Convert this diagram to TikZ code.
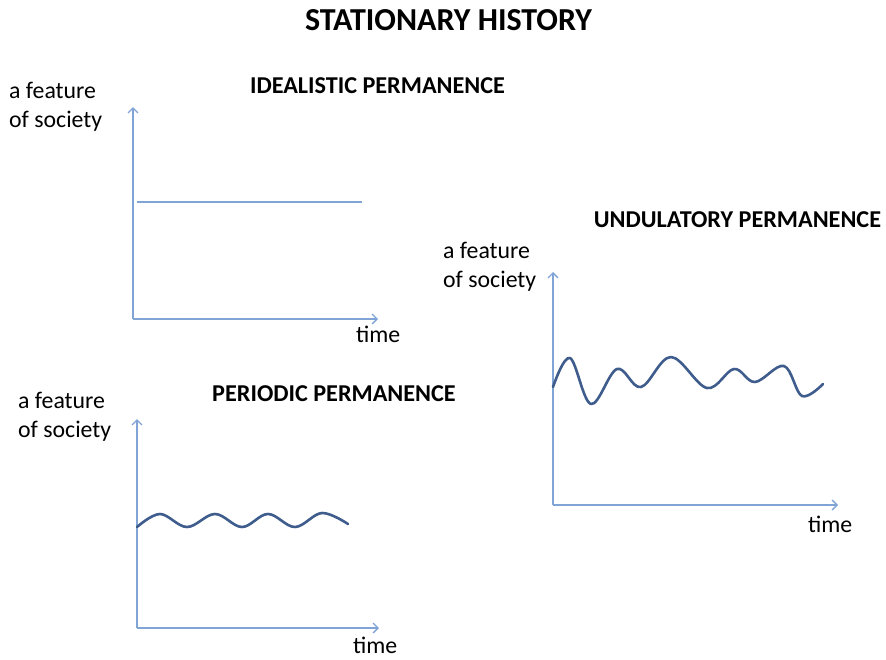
\documentclass[tikz,border=0pt]{standalone}
\usepackage{fontspec}
\setmainfont{Carlito}
\usetikzlibrary{arrows.meta}
\definecolor{axisblue}{RGB}{128,164,214}
\definecolor{waveblue}{RGB}{62,92,140}
\tikzset{
  axis/.style={draw=axisblue, line width=1.3pt, -{Straight Barb[length=5pt,width=10pt]}},
  flat/.style={draw=axisblue, line width=1.3pt},
  wave/.style={draw=waveblue, line width=2.6pt, line cap=round, line join=round},
  maintitle/.style={font=\fontsize{32}{38}\selectfont\bfseries, anchor=base},
  subtitle/.style={font=\fontsize{24.2}{29}\selectfont\bfseries, anchor=base},
  axlabel/.style={font=\fontsize{23.8}{29}\selectfont, anchor=base west, inner sep=0pt},
}
\begin{document}
\begin{tikzpicture}[x=1pt, y=-1pt]
\useasboundingbox (0,0) rectangle (886,659);

% headings
\node[maintitle] (title) at (448.5,30) {STATIONARY HISTORY};
\node[subtitle] (t1) at (377.5,93) {IDEALISTIC PERMANENCE};
\node[subtitle] (t2) at (737.5,227) {UNDULATORY PERMANENCE};
\node[subtitle] (t3) at (334,401) {PERIODIC PERMANENCE};

% chart 1: idealistic permanence
\coordinate (o1) at (133,319);
\coordinate (y1) at (133,107);
\coordinate (x1) at (378,319);
\draw[axis] (o1) -- (y1);
\draw[axis] (o1) -- (x1);
\coordinate (l1a) at (137,202);
\coordinate (l1b) at (362,202);
\draw[flat] (l1a) -- (l1b);
\node[axlabel] (f1a) at (9,98) {a feature};
\node[axlabel] (f1b) at (9,127) {of society};
\node[axlabel] (time1) at (356,342) {time};

% chart 2: undulatory permanence
\coordinate (o2) at (553,505);
\coordinate (y2) at (553,272);
\coordinate (x2) at (838,505);
\draw[axis] (o2) -- (y2);
\draw[axis] (o2) -- (x2);
\draw[wave] plot[smooth, tension=0.6] coordinates {
  (553,387) (570,358) (591,404) (617,369) (641,387) (671,357)
  (707,388) (734,369) (755,382) (784,366) (802,396) (823,384)};
\node[axlabel] (f2a) at (443,258) {a feature};
\node[axlabel] (f2b) at (443,287) {of society};
\node[axlabel] (time2) at (808,532) {time};

% chart 3: periodic permanence
\coordinate (o3) at (137,628);
\coordinate (y3) at (137,419);
\coordinate (x3) at (379,628);
\draw[axis] (o3) -- (y3);
\draw[axis] (o3) -- (x3);
\draw[wave] plot[smooth, tension=0.6] coordinates {
  (137,527) (160,514) (187,527) (215,514) (242,527) (268,514)
  (295,527) (322,513) (348,524)};
\node[axlabel] (f3a) at (18,408) {a feature};
\node[axlabel] (f3b) at (18,437) {of society};
\node[axlabel] (time3) at (353,653) {time};
\end{tikzpicture}
\end{document}
